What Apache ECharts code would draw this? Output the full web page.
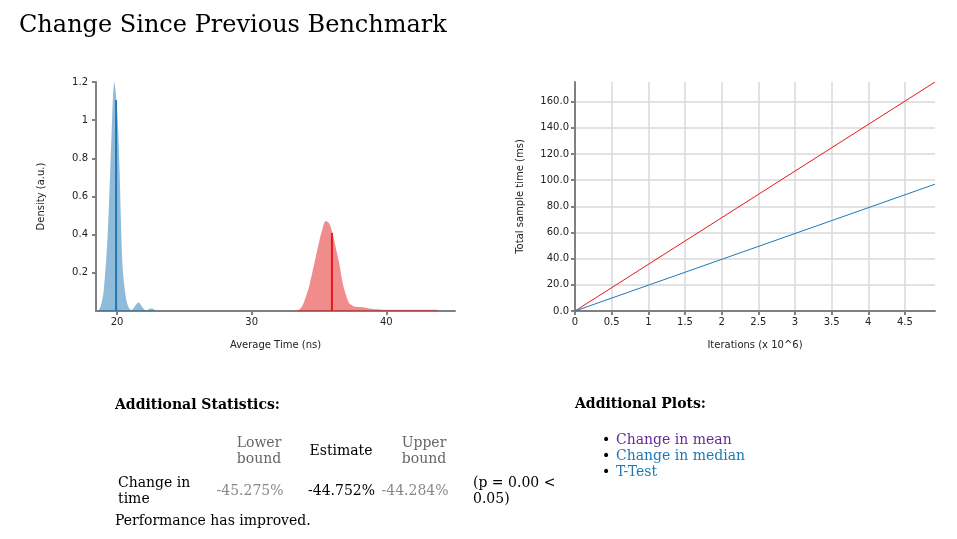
<!DOCTYPE html>
<html>
<head>
<meta charset="utf-8">
<script src="https://cdn.jsdelivr.net/npm/echarts@6/dist/echarts.min.js"></script>
<style>
html,body{margin:0;padding:0;background:#fff;}
#chart{width:957px;height:539px;}
</style>
</head>
<body>
<div id="chart"></div>
<script>
// ---- Data ----
// Density of the new benchmark (blue) vs previous (red), Average Time (ns)
const blueTime = [18.6,18.7,18.8,18.9,19.0,19.1,19.2,19.3,19.4,19.5,19.6,19.7,19.8,19.9,20.0,20.1,20.2,20.3,20.4,20.5,20.6,20.7,20.8,20.9,21.0,21.1,21.2,21.3,21.4,21.5,21.6,21.7,21.8,21.9,22.0,22.1,22.2,22.3,22.4,22.5,22.6,22.7,22.8,22.9];
const blueDensity = [0,0.01,0.03,0.055,0.10,0.18,0.27,0.39,0.55,0.74,0.93,1.12,1.20,1.15,1.06,0.93,0.72,0.45,0.25,0.16,0.10,0.055,0.03,0.015,0.007,0.006,0.012,0.022,0.033,0.041,0.044,0.039,0.029,0.018,0.010,0.005,0.004,0.007,0.011,0.013,0.013,0.010,0.005,0];
const redTime = [33.25,33.5,33.75,34.0,34.25,34.5,34.75,35.0,35.25,35.5,35.75,36.0,36.25,36.5,36.75,37.0,37.25,37.5,37.75,38.0,38.25,38.5,38.75,39.0,39.5,40.0,41.0,42.0,43.0,43.8,43.85];
const redDensity = [0,0.006,0.025,0.07,0.125,0.20,0.28,0.36,0.43,0.472,0.46,0.41,0.33,0.25,0.15,0.085,0.04,0.028,0.022,0.021,0.02,0.017,0.013,0.010,0.008,0.007,0.007,0.007,0.007,0.007,0];
// Point estimates (vertical lines): [time, density]
const blueEstimate = [19.93, 1.105];
const redEstimate = [35.96, 0.409];
const densityTicks = [20, 30, 40];

// Regression: Iterations (x 10^6) vs Total sample time (ms)
const iterations = [0, 4.91];
const blueTotalTime = [0, 96.9];
const redTotalTime = [0, 175];

const statsHeader = ['Lower\nbound', 'Estimate', 'Upper\nbound'];
const statsValues = ['-45.275%', '-44.752%', '-44.284%'];
const pValueText = '(p = 0.00 <\n0.05)';
const plotLinks = ['Change in mean', 'Change in median', 'T-Test'];

// ---- Chart ----
const BLUE = '#1f78b4', RED = '#e31a1c', AXIS = '#808080', LABEL = '#222';
const SANS = 'DejaVu Sans', SERIF = 'DejaVu Serif';
const pairs = (xs, ys) => xs.map((x, i) => [x, ys[i]]);

const axisCommon = {
  axisLine: {show: true, lineStyle: {color: AXIS, width: 2}},
  axisTick: {show: true, length: 4, lineStyle: {color: AXIS, width: 2}},
  axisLabel: {color: LABEL, fontFamily: SANS, fontSize: 10},
  nameTextStyle: {color: LABEL, fontFamily: SANS, fontSize: 10},
  nameLocation: 'middle'
};

const chart = echarts.init(document.getElementById('chart'), null, {renderer: 'canvas'});

function txt(x, y, text, opts) {
  return {
    type: 'text', silent: true,
    style: Object.assign({
      x: x, y: y, text: text,
      font: '14px "' + SERIF + '"', fill: '#000',
      textAlign: 'left', textVerticalAlign: 'middle', lineHeight: 16
    }, opts || {})
  };
}

const graphics = [
  txt(19, 26, 'Change Since Previous Benchmark', {font: '24px "' + SERIF + '"'}),
  txt(115, 405, 'Additional Statistics:', {font: 'bold 14px "' + SERIF + '"'}),
  txt(259, 451, statsHeader[0], {textAlign: 'center', fill: '#666'}),
  txt(341, 451, statsHeader[1], {textAlign: 'center'}),
  txt(424, 451, statsHeader[2], {textAlign: 'center', fill: '#666'}),
  txt(118, 491, 'Change in\ntime'),
  txt(250, 491, statsValues[0], {textAlign: 'center', fill: '#888'}),
  txt(341.5, 491, statsValues[1], {textAlign: 'center'}),
  txt(415, 491, statsValues[2], {textAlign: 'center', fill: '#888'}),
  txt(473, 491, pValueText),
  txt(115, 521, 'Performance has improved.'),
  txt(575, 404, 'Additional Plots:', {font: 'bold 14px "' + SERIF + '"'})
];
const linkColors = ['#642c96', BLUE, BLUE];
plotLinks.forEach((t, i) => {
  graphics.push(txt(602, 440 + i * 16, '•', {font: '14px "' + SANS + '"'}));
  graphics.push(txt(616, 440 + i * 16, t, {fill: linkColors[i]}));
});

const option = {
  animation: false,
  backgroundColor: '#fff',
  grid: [
    {left: 96, top: 82, right: 502, bottom: 228, containLabel: false},
    {left: 575, top: 82, right: 22, bottom: 228, containLabel: false}
  ],
  xAxis: [
    Object.assign({}, axisCommon, {
      gridIndex: 0, type: 'value', min: 18.44, max: 45.1,
      name: 'Average Time (ns)', nameGap: 29,
      splitLine: {show: false},
      axisLabel: Object.assign({}, axisCommon.axisLabel, {customValues: densityTicks, margin: 6}),
      axisTick: Object.assign({}, axisCommon.axisTick, {customValues: densityTicks})
    }),
    Object.assign({}, axisCommon, {
      gridIndex: 1, type: 'value', min: 0, max: 4.91, interval: 0.5,
      name: 'Iterations (x 10^6)', nameGap: 29,
      splitLine: {show: true, showMaxLine: false, lineStyle: {color: '#d9d9d9', width: 1.5}},
      axisLabel: Object.assign({}, axisCommon.axisLabel, {showMaxLabel: false, margin: 6})
    })
  ],
  yAxis: [
    Object.assign({}, axisCommon, {
      gridIndex: 0, type: 'value', min: 0, max: 1.2, interval: 0.2,
      name: 'Density (a.u.)', nameGap: 50,
      splitLine: {show: false},
      axisLabel: Object.assign({}, axisCommon.axisLabel, {showMinLabel: false, margin: 8})
    }),
    Object.assign({}, axisCommon, {
      gridIndex: 1, type: 'value', min: 0, max: 175, interval: 20,
      name: 'Total sample time (ms)', nameGap: 50,
      splitLine: {show: true, showMaxLine: false, lineStyle: {color: '#d9d9d9', width: 1.5}},
      axisLabel: Object.assign({}, axisCommon.axisLabel, {showMaxLabel: false, margin: 6,
        formatter: v => v.toFixed(1)})
    })
  ],
  series: [
    {type: 'line', xAxisIndex: 0, yAxisIndex: 0, data: pairs(blueTime, blueDensity),
     showSymbol: false, smooth: 0.25, lineStyle: {width: 0}, areaStyle: {color: 'rgba(31,120,180,0.5)', opacity: 1}},
    {type: 'line', xAxisIndex: 0, yAxisIndex: 0, data: pairs(redTime, redDensity),
     showSymbol: false, smooth: 0.3, lineStyle: {width: 0}, areaStyle: {color: 'rgba(227,26,28,0.5)', opacity: 1}},
    {type: 'line', xAxisIndex: 0, yAxisIndex: 0, data: [[blueEstimate[0], 0], blueEstimate],
     showSymbol: false, lineStyle: {width: 2, color: BLUE}},
    {type: 'line', xAxisIndex: 0, yAxisIndex: 0, data: [[redEstimate[0], 0], redEstimate],
     showSymbol: false, lineStyle: {width: 2, color: RED}},
    {type: 'line', xAxisIndex: 1, yAxisIndex: 1, data: pairs(iterations, redTotalTime),
     showSymbol: false, lineStyle: {width: 1, color: RED}},
    {type: 'line', xAxisIndex: 1, yAxisIndex: 1, data: pairs(iterations, blueTotalTime),
     showSymbol: false, lineStyle: {width: 1, color: BLUE}}
  ],
  graphic: graphics
};
chart.setOption(option);
</script>
</body>
</html>
